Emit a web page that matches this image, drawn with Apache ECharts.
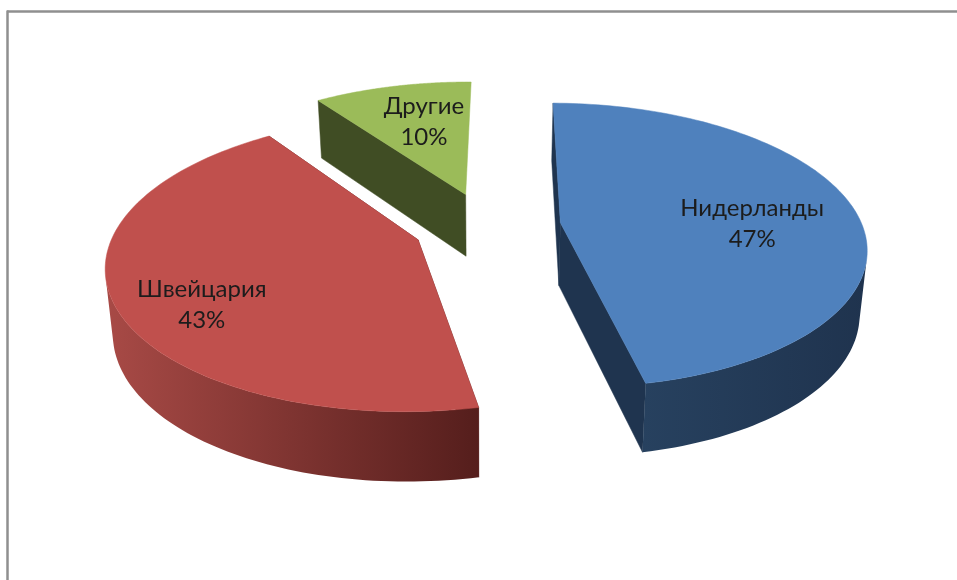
<!DOCTYPE html>
<html><head><meta charset="utf-8">
<style>html,body{margin:0;padding:0;background:#fff}#c{width:957px;height:580px}</style>
<script src="https://cdn.jsdelivr.net/npm/echarts@6/dist/echarts.min.js"></script>
</head><body><div id="c"></div>
<script>
var categories = ['Нидерланды', 'Швейцария', 'Другие'];
var values = [46.6, 43.4, 10];
var topColors = ['#4f81bd', '#c0504d', '#9bbb59'];
var sideColors = ['#1f344f', '#5a1f1e', '#404d24'];
var wallFrom = ['#27415f', '#a84a46', '#404d24'];
var wallTo = ['#1f334e', '#551e1c', '#404d24'];
var labelAngles = [91, 237, 345];
var labelRadii = [0.636, 0.766, 0.632];

var START = 0.6, EXPLODE = 0.245, CX = 487, CY = 226, AX = 302, AY = 139.6, K = 0.159;
var DEPTH = 63, DEPTH_K = 0.09, TAPER = 0.98;
var total = values.reduce(function (a, b) { return a + b; }, 0);

function project(X, Y, bottom) {
  var s = 1 / (1 - K * Y);
  return bottom
    ? [CX + AX * X * s * TAPER, CY + AY * Y * s + DEPTH / (1 - DEPTH_K * Y)]
    : [CX + AX * X * s, CY + AY * Y * s];
}
function renderSlice(params, api) {
  var i = params.dataIndex, before = 0;
  for (var n = 0; n < i; n++) before += values[n];
  var a0 = START + before / total * 360, a1 = a0 + api.value(0) / total * 360;
  var mid = (a0 + a1) / 2 * Math.PI / 180;
  var ox = EXPLODE * Math.sin(mid), oy = -EXPLODE * Math.cos(mid);
  function ground(deg) {
    var t = deg * Math.PI / 180;
    return [ox + Math.sin(t), oy - Math.cos(t)];
  }
  var arcG = [], steps = 120;
  for (var k = 0; k <= steps; k++) arcG.push(ground(a0 + (a1 - a0) * k / steps));
  var apexT = project(ox, oy, false), apexB = project(ox, oy, true);
  var topArc = arcG.map(function (g) { return project(g[0], g[1], false); });
  var botArc = arcG.map(function (g) { return project(g[0], g[1], true); });
  var children = [];
  function poly(points, fill) {
    children.push({ type: 'polygon', shape: { points: points }, style: { fill: fill, stroke: fill, lineWidth: 0.5 } });
  }
  poly([apexT, topArc[0], botArc[0], apexB], sideColors[i]);
  // the closing wall of the last slice faces away from the viewer
  if (i < values.length - 1) poly([apexT, topArc[steps], botArc[steps], apexB], sideColors[i]);

  // outer wall: only segments facing the viewer
  var first = -1, last = -1;
  for (k = 0; k < steps; k++) {
    var p = topArc[k], q = topArc[k + 1], r = botArc[k];
    var cross = (q[0] - p[0]) * (r[1] - p[1]) - (q[1] - p[1]) * (r[0] - p[0]);
    if (cross < 0) { if (first < 0) first = k; last = k + 1; }
  }
  if (first >= 0) {
    var wall = topArc.slice(first, last + 1).concat(botArc.slice(first, last + 1).reverse());
    var xs = wall.map(function (w) { return w[0]; });
    var minX = Math.min.apply(null, xs), maxX = Math.max.apply(null, xs);
    var grad = new echarts.graphic.LinearGradient(maxX, 0, minX, 0, [
      { offset: 0, color: wallTo[i] },
      { offset: 1, color: wallFrom[i] }
    ], true);
    children.push({ type: 'polygon', shape: { points: wall }, style: { fill: grad } });
  }
  poly([apexT].concat(topArc), topColors[i]);

  var lt = labelAngles[i] * Math.PI / 180, lr = labelRadii[i];
  var lp = project(ox + lr * Math.sin(lt), oy - lr * Math.cos(lt), false);
  children.push({
    type: 'text', z2: 10,
    style: {
      x: lp[0], y: lp[1], text: categories[i] + '\n' + Math.round(api.value(0)) + '%',
      fill: '#1c1c1c', font: '24px Lato, "Open Sans"', align: 'center', verticalAlign: 'middle', lineHeight: 31
    }
  });
  return { type: 'group', children: children };
}
var chart = echarts.init(document.getElementById('c'), null, { renderer: 'canvas' });
chart.setOption({
  backgroundColor: '#ffffff',
  animation: false,
  graphic: [
    { type: 'line', shape: { x1: 7, y1: 11.5, x2: 957, y2: 11.5 }, style: { stroke: '#8f8f8f', lineWidth: 2.5 } },
    { type: 'line', shape: { x1: 7.5, y1: 10.5, x2: 7.5, y2: 580 }, style: { stroke: '#8f8f8f', lineWidth: 2.5 } }
  ],
  series: [{
    type: 'custom',
    coordinateSystem: 'none',
    renderItem: renderSlice,
    data: values.map(function (v) { return [v]; })
  }]
});
</script></body></html>
